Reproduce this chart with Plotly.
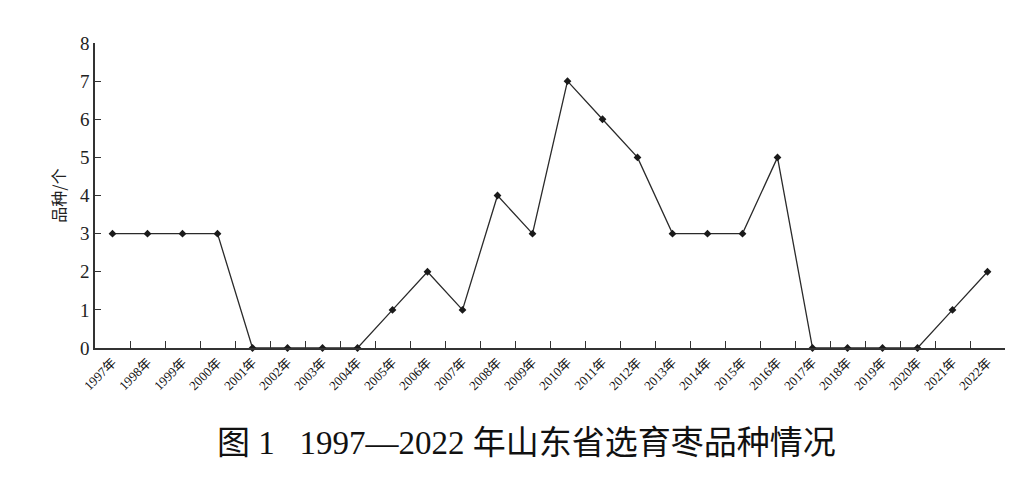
import plotly.graph_objects as go

years = [f"{y}年" for y in range(1997, 2023)]
counts = [3, 3, 3, 3, 0, 0, 0, 0, 1, 2, 1, 4, 3, 7, 6, 5, 3, 3, 3, 5, 0, 0, 0, 0, 1, 2]
y_ticks = [0, 1, 2, 3, 4, 5, 6, 7, 8]

fig = go.Figure()
fig.add_trace(go.Scatter(
    x=years, y=counts, mode="lines+markers",
    line=dict(color="#2a2a2a", width=1.3),
    marker=dict(symbol="diamond", size=6, color="#1a1a1a"),
    showlegend=False, cliponaxis=False,
))

fig.update_layout(
    width=1009, height=477,
    margin=dict(l=87, r=12, t=35, b=137, autoexpand=False),
    paper_bgcolor="white", plot_bgcolor="white",
    font=dict(family="Liberation Serif, Noto Sans CJK SC", color="#222"),
)
fig.update_xaxes(
    type="category", tickson="boundaries", ticks="inside", ticklen=7,
    range=[-0.5, len(years) - 0.5],
    tickcolor="#333", showline=True, linecolor="#333", linewidth=1.5,
    showgrid=False, tickangle=-45,
    tickfont=dict(family="Liberation Serif, Noto Sans CJK SC", size=13, color="#111"),
)
fig.update_yaxes(
    range=[0, 8], tickvals=y_ticks, ticks="inside", ticklen=6,
    tickcolor="#333", showline=True, linecolor="#333", linewidth=1.5,
    showgrid=False, zeroline=False,
    tickfont=dict(family="Liberation Serif", size=19, color="#222"),
    title=dict(text="品种/个", font=dict(family="Noto Sans CJK SC", size=16, color="#222"), standoff=10),
)
fig.add_annotation(
    text="图 1   1997—2022 年山东省选育枣品种情况",
    xref="paper", yref="paper", x=0.474, y=-0.31, xanchor="center", yanchor="middle",
    showarrow=False, font=dict(family="Liberation Serif, Noto Sans CJK SC", size=33, color="#111"),
)

fig.write_html("out.html")
